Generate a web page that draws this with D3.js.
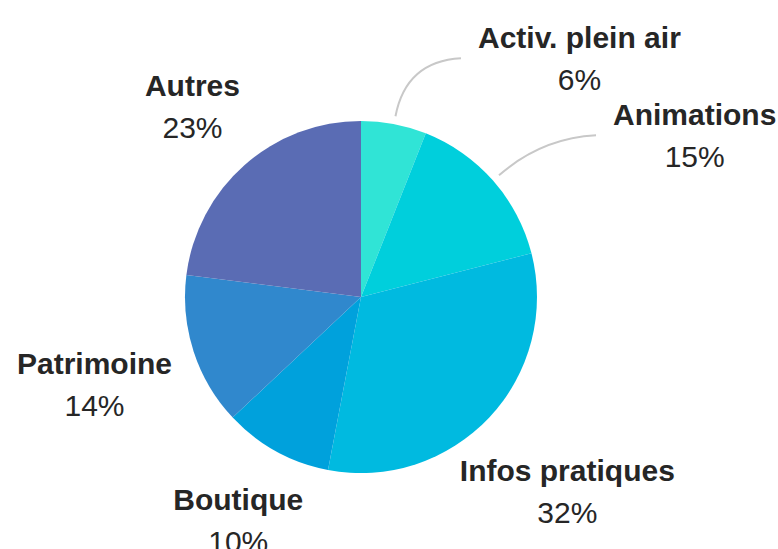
<!DOCTYPE html>
<html>
<head>
<meta charset="utf-8">
<script src="https://cdn.jsdelivr.net/npm/d3@7"></script>
<style>
    body { margin: 0; background: #fff; }
    text { font-family: "Liberation Sans", Arial, sans-serif; font-size: 30px; fill: #262626; }
</style>
</head>
<body>
<div id="pie-chart"></div>
<script>
const categories = ["Activ. plein air", "Animations", "Infos pratiques", "Boutique", "Patrimoine", "Autres"];
const shares = [6, 15, 32, 10, 14, 23];
const colors = ["#30e4d6", "#00cfdc", "#00bae0", "#00a1dc", "#3088cd", "#5a6cb4"];

function drawPieChart() {
    d3.select("#pie-chart").html("");

    const width = 778;
    const height = 549;
    const cx = 361, cy = 297;
    const radius = 176;

    const svg = d3.select("#pie-chart")
        .append("svg")
        .attr("width", width)
        .attr("height", height);

    const g = svg.append("g").attr("transform", `translate(${cx}, ${cy})`);

    const data = categories.map((c, i) => ({ name: c, value: shares[i], color: colors[i] }));

    const pie = d3.pie().value(d => d.value).sort(null);
    const arc = d3.arc().innerRadius(0).outerRadius(radius);
    const arcs = pie(data);

    g.selectAll("path.slice")
        .data(arcs)
        .enter()
        .append("path")
        .attr("class", "slice")
        .attr("d", arc)
        .attr("fill", d => d.data.color);

    const polar = (a, r) => [Math.sin(a) * r, -Math.cos(a) * r];

    arcs.forEach(d => {
        const mid = (d.startAngle + d.endAngle) / 2;
        const label = g.append("g");
        const name = label.append("text")
            .attr("text-anchor", "middle")
            .style("font-weight", "bold")
            .text(d.data.name);
        const pct = label.append("text")
            .attr("text-anchor", "middle")
            .text(d.data.value + "%");
        const w = Math.max(name.node().getComputedTextLength(), pct.node().getComputedTextLength());

        let lx, ly;
        if (mid < Math.PI / 2) {
            // top-right slices get a curved leader line
            const s = polar(mid, radius + 8);
            const c = polar(mid, radius + 64);
            const e = [c[0] + 55, c[1] - 3];
            g.append("path")
                .attr("d", `M${s[0]},${s[1]}Q${c[0]},${c[1]} ${e[0]},${e[1]}`)
                .attr("fill", "none")
                .attr("stroke", "#c8c8c8")
                .attr("stroke-width", 2);
            lx = e[0] + 17 + w / 2;
            ly = e[1];
        } else {
            // wider labels sit a bit further out on the sides
            const dist = radius + 60 + 0.6 * Math.abs(Math.sin(mid)) * w / 2;
            const p = polar(mid, dist);
            lx = p[0];
            ly = p[1];
        }
        name.attr("x", lx).attr("y", ly - 10);
        pct.attr("x", lx).attr("y", ly + 32);
    });
}

drawPieChart();
</script>
</body>
</html>
